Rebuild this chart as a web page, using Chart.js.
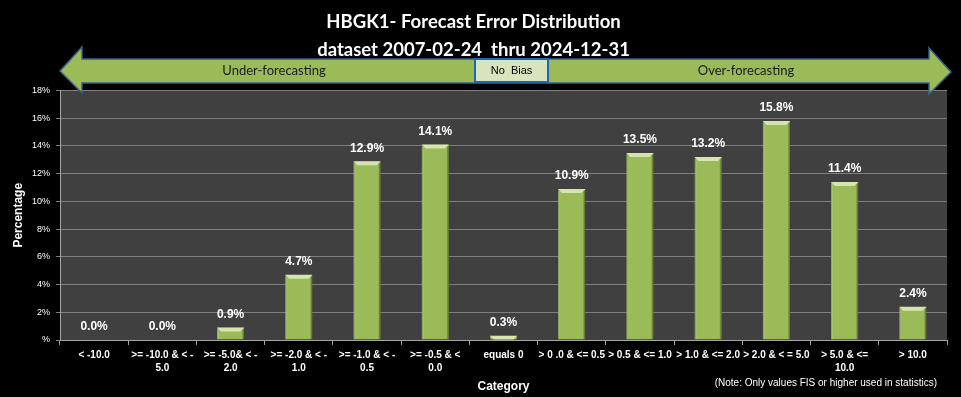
<!DOCTYPE html>
<html>
<head>
<meta charset="utf-8">
<script src="https://cdn.jsdelivr.net/npm/chart.js@4.4.1/dist/chart.umd.min.js"></script>
<style>
  html, body { margin: 0; padding: 0; background: #000; }
  #wrap { width: 961px; height: 397px; }
</style>
</head>
<body>
<div id="wrap"><canvas id="errorChart"></canvas></div>
<script>
const categories = [
  "< -10.0",
  [">= -10.0 & < -", "5.0"],
  [">= -5.0& < -", "2.0"],
  [">= -2.0 & < -", "1.0"],
  [">= -1.0 & < -", "0.5"],
  [">= -0.5 & <", "0.0"],
  "equals 0",
  "> 0 .0 & <= 0.5",
  "> 0.5 & <= 1.0",
  "> 1.0 & <= 2.0",
  "> 2.0 & < = 5.0",
  ["> 5.0 & <=", "10.0"],
  "> 10.0"
];
const percentages = [0.0, 0.0, 0.9, 4.7, 12.9, 14.1, 0.3, 10.9, 13.5, 13.2, 15.8, 11.4, 2.4];
const yTickLabels = ["%", "2%", "4%", "6%", "8%", "10%", "12%", "14%", "16%", "18%"];
const titleLines = ["HBGK1- Forecast Error Distribution", "dataset 2007-02-24  thru 2024-12-31"];
const biasLabels = ["Under-forecasting", "No  Bias", "Over-forecasting"];
const noteText = "(Note: Only values FIS or higher used in statistics)";

const barGreen = "#9bbb59";
const gridGray = "#7f7f7f";

// dark plot background
const plotBackground = {
  id: "plotBackground",
  beforeDraw(chart) {
    const { ctx, chartArea: a } = chart;
    ctx.save();
    ctx.fillStyle = "#404040";
    ctx.fillRect(a.left, a.top, a.right - a.left, a.bottom - a.top);
    ctx.restore();
  }
};

// bevel look + value labels on the bars
const barExtras = {
  id: "barExtras",
  afterDatasetsDraw(chart) {
    const { ctx } = chart;
    const meta = chart.getDatasetMeta(0);
    meta.data.forEach((bar, i) => {
      const l = bar.x - bar.width / 2, r = bar.x + bar.width / 2;
      const h = bar.base - bar.y;
      ctx.save();
      if (h > 0) {
        const b = Math.min(4, h);
        ctx.fillStyle = "#d6e5b0";
        ctx.beginPath();
        ctx.moveTo(l, bar.y);
        ctx.lineTo(r, bar.y);
        ctx.lineTo(r - b, bar.y + b);
        ctx.lineTo(l + b, bar.y + b);
        ctx.closePath();
        ctx.fill();
        if (h > 4) {
          ctx.fillStyle = "rgba(60,80,20,0.35)";
          ctx.fillRect(r - 2, bar.y + 2, 2, h - 2);
          ctx.fillStyle = "rgba(255,255,255,0.15)";
          ctx.fillRect(l, bar.y + 2, 2, h - 2);
        }
      }
      ctx.fillStyle = "#ffffff";
      ctx.font = "bold 12px 'Liberation Sans'";
      ctx.textAlign = "center";
      ctx.textBaseline = "middle";
      ctx.fillText(percentages[i].toFixed(1) + "%", bar.x, bar.y - 13);
      ctx.restore();
    });
  }
};

// bias arrow across the top and the footnote
const biasArrow = {
  id: "biasArrow",
  afterDraw(chart) {
    const { ctx } = chart;
    ctx.save();
    ctx.beginPath();
    ctx.moveTo(60, 71);
    ctx.lineTo(82, 47);
    ctx.lineTo(82, 59);
    ctx.lineTo(929, 59);
    ctx.lineTo(929, 48);
    ctx.lineTo(951, 72);
    ctx.lineTo(929, 94);
    ctx.lineTo(929, 83);
    ctx.lineTo(82, 83);
    ctx.lineTo(82, 93);
    ctx.closePath();
    ctx.fillStyle = barGreen;
    ctx.fill();
    ctx.lineWidth = 1.5;
    ctx.strokeStyle = "#3d5f8c";
    ctx.stroke();

    ctx.fillStyle = "#d7e4bd";
    ctx.fillRect(475, 59, 73, 23);
    ctx.lineWidth = 2;
    ctx.strokeStyle = "#1f67b1";
    ctx.strokeRect(475, 59, 73, 23);

    ctx.textAlign = "center";
    ctx.textBaseline = "middle";
    ctx.fillStyle = "#1a1a1a";
    ctx.font = "13px Lato";
    ctx.fillText(biasLabels[0], 274, 71);
    ctx.fillText(biasLabels[2], 746, 71);
    ctx.fillStyle = "#000";
    ctx.font = "11px 'Liberation Sans'";
    ctx.fillText(biasLabels[1], 511.5, 71);

    ctx.fillStyle = "#ffffff";
    ctx.font = "10px 'Liberation Sans'";
    ctx.textAlign = "right";
    ctx.fillText(noteText, 937, 383);
    ctx.restore();
  }
};

const chart = new Chart(document.getElementById("errorChart"), {
  type: "bar",
  data: {
    labels: categories,
    datasets: [{
      label: "Percentage",
      data: percentages,
      backgroundColor: barGreen,
      borderColor: "#7f9d45",
      borderWidth: 1,
      barPercentage: 0.4,
      categoryPercentage: 1.0
    }]
  },
  options: {
    responsive: true,
    maintainAspectRatio: false,
    animation: false,
    layout: { padding: { left: 0, right: 14, top: 0, bottom: 0 } },
    plugins: {
      legend: { display: false },
      tooltip: { enabled: false },
      title: {
        display: true,
        text: titleLines,
        color: "#ffffff",
        font: { family: "Lato", size: 18.5, weight: "bold", lineHeight: 1.5 },
        padding: { top: 8, bottom: 27 }
      }
    },
    scales: {
      x: {
        afterFit(scale) { scale.height = 57; },
        grid: {
          offset: true,
          drawOnChartArea: false,
          color: "#a6a6a6",
          tickLength: 5
        },
        border: { color: "#a6a6a6" },
        ticks: {
          color: "#ffffff",
          maxRotation: 0,
          autoSkip: false,
          padding: 4,
          font: { family: "'Liberation Sans'", size: 10, weight: "bold", lineHeight: 1.3 }
        },
        title: {
          display: true,
          text: "Category",
          color: "#ffffff",
          font: { family: "'Liberation Sans'", size: 12, weight: "bold" },
          padding: { top: 0, bottom: 3 }
        }
      },
      y: {
        min: 0,
        max: 18,
        afterFit(scale) { scale.width = 60; },
        grid: { color: gridGray, tickLength: 4 },
        border: { color: "#a6a6a6" },
        ticks: {
          stepSize: 2,
          padding: 6,
          color: "#ffffff",
          font: { family: "'Liberation Sans'", size: 9 },
          callback: (value, index) => yTickLabels[index]
        },
        title: {
          display: true,
          text: "Percentage",
          color: "#ffffff",
          font: { family: "'Liberation Sans'", size: 12, weight: "bold" },
          padding: { top: 11, bottom: 0 }
        }
      }
    }
  },
  plugins: [plotBackground, barExtras, biasArrow]
});
</script>
</body>
</html>
